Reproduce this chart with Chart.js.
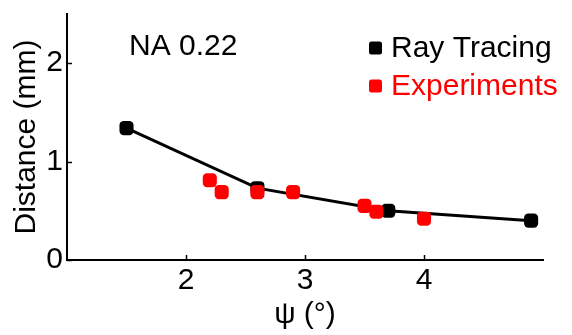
<!DOCTYPE html>
<html>
<head>
<meta charset="utf-8">
<script src="https://cdn.jsdelivr.net/npm/chart.js@4.4.1/dist/chart.umd.min.js"></script>
<style>
html,body{margin:0;padding:0;background:#fff;}
#wrap{width:572px;height:335px;position:relative;}
</style>
</head>
<body>
<div id="wrap"><canvas id="c" width="572" height="335"></canvas></div>
<script>
const rayPsi = [1.5, 2.6, 3.7, 4.9];
const rayDistance = [1.34, 0.73, 0.50, 0.40];
const expPsi = [2.2, 2.3, 2.6, 2.9, 3.5, 3.6, 4.0];
const expDistance = [0.81, 0.69, 0.69, 0.69, 0.55, 0.49, 0.42];
const xTicks = [2, 3, 4];
const yTicks = [0, 1, 2];
const seriesNames = ['Ray Tracing', 'Experiments'];
const seriesColors = ['#000000', '#ff0000'];
const annotationText = 'NA 0.22';
const xTitle = 'ψ (°)';
const yTitle = 'Distance (mm)';

const FONT = '"Liberation Sans", Arial, sans-serif';
const FS = 30;

const toPts = (xs, ys) => xs.map((x, i) => ({x: x, y: ys[i]}));

const extras = {
  id: 'extras',
  afterDraw(chart) {
    const ctx = chart.ctx;
    const xs = chart.scales.x, ys = chart.scales.y;
    const a = chart.chartArea;
    ctx.save();
    ctx.strokeStyle = '#000';
    ctx.lineWidth = 1.5;
    xTicks.forEach(v => {
      const px = Math.round(xs.getPixelForValue(v)) + 0.5;
      ctx.beginPath(); ctx.moveTo(px, a.bottom); ctx.lineTo(px, a.bottom - 5); ctx.stroke();
    });
    yTicks.forEach(v => {
      const py = Math.round(ys.getPixelForValue(v)) + 0.5;
      ctx.beginPath(); ctx.moveTo(a.left, py); ctx.lineTo(a.left + 5, py); ctx.stroke();
    });
    ctx.font = FS + 'px ' + FONT;
    ctx.textBaseline = 'alphabetic';
    ctx.textAlign = 'left';
    ctx.fillStyle = '#000';
    ctx.fillText(annotationText, 129, 55);
    const rows = [57, 95];
    seriesNames.forEach((name, i) => {
      ctx.fillStyle = seriesColors[i];
      const cy = rows[i] - 9;
      ctx.beginPath();
      if (ctx.roundRect) { ctx.roundRect(369, cy - 6.5, 13, 13, 2.5); } else { ctx.rect(369, cy - 6.5, 13, 13); }
      ctx.fill();
      ctx.fillText(name, 391, rows[i]);
    });
    ctx.restore();
  }
};

new Chart(document.getElementById('c'), {
  type: 'scatter',
  data: {
    datasets: [
      {
        label: seriesNames[1],
        data: toPts(expPsi, expDistance),
        showLine: false,
        pointStyle: 'rectRounded',
        pointRadius: 8.2,
        pointBorderWidth: 0,
        backgroundColor: seriesColors[1],
        borderColor: seriesColors[1],
        order: 0
      },
      {
        label: seriesNames[0],
        data: toPts(rayPsi, rayDistance),
        showLine: true,
        borderWidth: 3,
        borderColor: seriesColors[0],
        backgroundColor: seriesColors[0],
        pointStyle: 'rectRounded',
        pointRadius: 8.2,
        pointBorderWidth: 0,
        order: 1
      }
    ]
  },
  options: {
    responsive: false,
    animation: false,
    devicePixelRatio: 1,
    layout: { padding: { top: 14, right: 29, left: 0, bottom: 0 } },
    plugins: { legend: { display: false }, tooltip: { enabled: false } },
    scales: {
      x: {
        type: 'linear',
        min: 1, max: 5,
        afterBuildTicks: s => { s.ticks = xTicks.map(v => ({value: v})); },
        afterFit: s => { s.height = 75; s.paddingLeft = 0; s.paddingRight = 0; },
        grid: { display: true, drawOnChartArea: false, drawTicks: false },
        border: { display: true, color: '#000', width: 2 },
        ticks: { color: '#000', font: { family: FONT, size: FS }, padding: 3, maxRotation: 0 },
        title: { display: true, text: xTitle, color: '#000', font: { family: FONT, size: FS }, padding: { top: 0, bottom: 2 } }
      },
      y: {
        type: 'linear',
        min: 0, max: 2.5,
        afterBuildTicks: s => { s.ticks = yTicks.map(v => ({value: v})); },
        afterFit: s => { s.width = 67; s.paddingTop = 0; s.paddingBottom = 0; },
        grid: { display: true, drawOnChartArea: false, drawTicks: false },
        border: { display: true, color: '#000', width: 2 },
        ticks: { color: '#000', font: { family: FONT, size: FS }, padding: 4 },
        title: { display: true, text: yTitle, color: '#000', font: { family: FONT, size: FS }, padding: { top: 9, bottom: 0 } }
      }
    }
  },
  plugins: [extras]
});
</script>
</body>
</html>
